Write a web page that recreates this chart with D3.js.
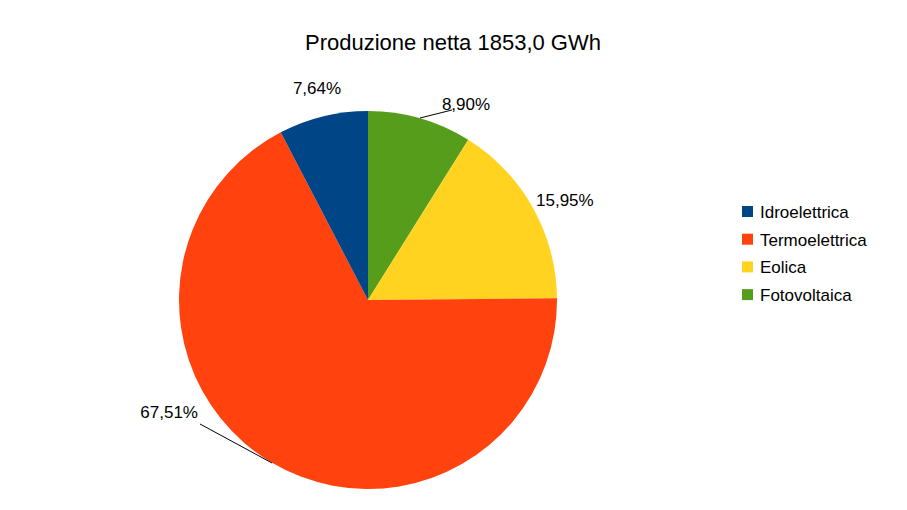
<!DOCTYPE html>
<html><head><meta charset="utf-8">
<script src="https://cdn.jsdelivr.net/npm/d3@7"></script>
<style>body{margin:0;background:#fff}text{font-family:"Liberation Sans",Arial,sans-serif;fill:#000}</style>
</head><body>
<svg id="chart" width="907" height="510"></svg>
<script>
// clockwise from 12 o'clock
const categories = ['Fotovoltaica', 'Eolica', 'Termoelettrica', 'Idroelettrica'];
const values = [8.90, 15.95, 67.51, 7.64];
const legendOrder = ['Idroelettrica', 'Termoelettrica', 'Eolica', 'Fotovoltaica'];
const colors = {Idroelettrica: '#004586', Termoelettrica: '#ff420e', Eolica: '#ffd320', Fotovoltaica: '#579d1c'};

const svg = d3.select('#chart');
const cx = 368, cy = 300, r = 189;

svg.append('text').attr('x', 453).attr('y', 50).attr('text-anchor', 'middle')
  .style('font-size', '22px').text('Produzione netta 1853,0 GWh');

const pie = d3.pie().sort(null).value(d => d.v);
const arcs = pie(categories.map((c, i) => ({c, v: values[i]})));
const arc = d3.arc().innerRadius(0).outerRadius(r);

const g = svg.append('g').attr('transform', `translate(${cx},${cy})`);
g.selectAll('path').data(arcs).join('path')
  .attr('d', arc).attr('fill', d => colors[d.data.c]);

const fmt = v => v.toFixed(2).replace('.', ',') + '%';
// label positions (relative to centre) and optional leader lines
const labelPos = {
  Fotovoltaica: {x: 98, y: -190, anchor: 'middle', line: [[52, -182], [84, -190]]},
  Eolica: {x: 168, y: -94, anchor: 'start'},
  Termoelettrica: {x: -170, y: 118, anchor: 'end', line: [[-96, 163], [-168, 124]]},
  Idroelettrica: {x: -51, y: -206, anchor: 'middle'}
};
arcs.forEach(d => {
  const p = labelPos[d.data.c];
  if (p.line) {
    g.append('polyline').attr('points', p.line.map(q => q.join(',')).join(' '))
      .attr('fill', 'none').attr('stroke', '#000').attr('stroke-width', 1);
  }
  g.append('text').attr('x', p.x).attr('y', p.y).attr('text-anchor', p.anchor)
    .style('font-size', '17px').text(fmt(d.data.v));
});

const lg = svg.append('g').attr('transform', 'translate(742,206)');
legendOrder.forEach((c, i) => {
  const row = lg.append('g').attr('transform', `translate(0,${i * 27.7})`);
  row.append('rect').attr('width', 11).attr('height', 11).attr('fill', colors[c]);
  row.append('text').attr('x', 18).attr('y', 12).style('font-size', '17px').text(c);
});
</script>
</body></html>
